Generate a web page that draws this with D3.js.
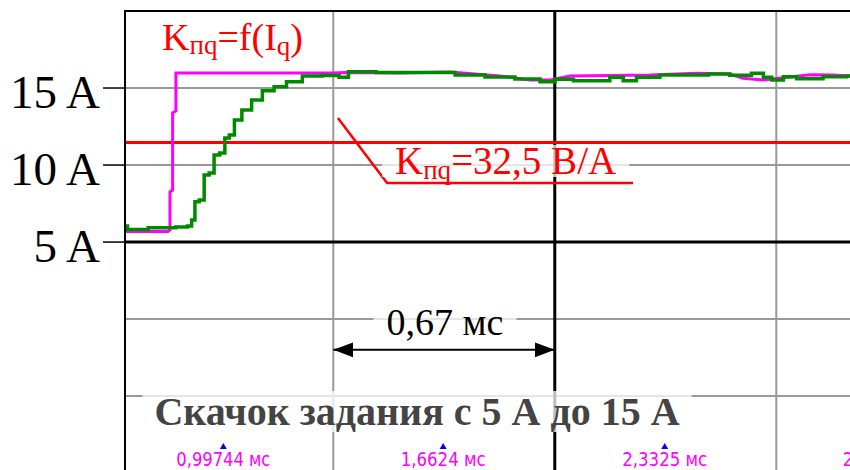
<!DOCTYPE html>
<html>
<head>
<meta charset="utf-8">
<script src="https://cdn.jsdelivr.net/npm/d3@7"></script>
<style>
  body { margin: 0; background: #fff; }
  svg { display: block; }
</style>
</head>
<body>
<script>
// time in ms, current in A
var greenT = [0.700, 0.715, 0.826, 0.881, 0.897, 0.906, 0.917, 0.932, 0.947, 0.962,
  0.977, 0.996, 1.008, 1.023, 1.039, 1.068, 1.098, 1.133, 1.169, 1.208,
  1.265, 1.329, 1.366, 1.386, 1.532, 1.653, 1.744, 1.834, 1.925, 1.986,
  2.016, 2.097, 2.146, 2.187, 2.227, 2.267, 2.369, 2.440, 2.490, 2.569,
  2.621, 2.641, 2.671, 2.712, 2.751, 2.872, 2.893];
var greenI = [6.04, 5.82, 5.93, 5.97, 6.04, 6.43, 7.62, 7.73, 9.35, 9.48,
  10.65, 10.78, 11.75, 11.95, 12.92, 13.57, 14.22, 14.83, 15.09, 15.41,
  15.78, 15.81, 15.70, 16.06, 16.01, 16.01, 15.85, 15.72, 15.59, 15.41,
  15.57, 15.47, 15.47, 15.70, 15.47, 15.70, 15.85, 15.85, 15.91, 15.83,
  15.96, 15.70, 15.52, 15.73, 15.60, 15.73, 15.78];

var pinkT = [0.700, 0.830, 0.836, 0.836, 0.844, 0.844, 0.854, 0.854, 1.329, 1.366,
  1.532, 1.683, 1.834, 1.925, 1.986, 2.046, 2.288, 2.429, 2.530, 2.569,
  2.630, 2.772, 2.842, 2.893];
var pinkI = [5.68, 5.68, 5.78, 8.25, 8.38, 13.38, 13.51, 15.97, 15.97, 16.01,
  15.97, 16.04, 15.78, 15.52, 15.52, 15.78, 15.85, 15.96, 15.91, 15.63,
  15.52, 15.86, 15.85, 15.78];

var redT = [0.700, 2.893];
var redI = [11.47, 11.47];

var yTicks = [15, 10, 5];
var yTickLabels = ["15 A", "10 A", "5 A"];
var gridI = [15, 10, 0, -5];
var gridT = [1.33, 2.67];
var axisI = 5;
var axisT = 2.00;

var cursorT = [0.99744, 1.6624, 2.3325, 2.9996];
var cursorLabels = ["0,99744 мс", "1,6624 мс", "2,3325 мс", "2,9996 мс"];

var width = 850, height = 470;

var svg = d3.select("body").append("svg")
    .attr("width", width)
    .attr("height", height);

var x = d3.scaleLinear().domain([0.70, 2.893]).range([125, 850]);
var y = d3.scaleLinear().domain([20, -9.8]).range([11, 470]);

svg.append("defs").append("clipPath")
    .attr("id", "plot")
  .append("rect")
    .attr("x", 125).attr("y", 11)
    .attr("width", 725).attr("height", 459);

svg.select("defs").append("marker")
    .attr("id", "head")
    .attr("viewBox", "0 -8 20 16")
    .attr("refX", 20).attr("refY", 0)
    .attr("markerWidth", 20).attr("markerHeight", 16)
    .attr("markerUnits", "userSpaceOnUse")
    .attr("orient", "auto-start-reverse")
  .append("path")
    .attr("d", "M0,-7.5L20,0L0,7.5Z")
    .attr("fill", "#000");

var plot = svg.append("g").attr("clip-path", "url(#plot)");

// grey grid
plot.selectAll("line.gy")
  .data(gridI)
  .enter().append("line")
    .attr("class", "gy")
    .attr("x1", 125).attr("x2", width)
    .attr("y1", function(d) { return y(d); })
    .attr("y2", function(d) { return y(d); })
    .attr("stroke", "#999").attr("stroke-width", 2);

plot.selectAll("line.gx")
  .data(gridT)
  .enter().append("line")
    .attr("class", "gx")
    .attr("y1", 11).attr("y2", height)
    .attr("x1", function(d) { return x(d); })
    .attr("x2", function(d) { return x(d); })
    .attr("stroke", "#999").attr("stroke-width", 2);

// black centre cross
plot.append("line")
    .attr("x1", 125).attr("x2", width)
    .attr("y1", y(axisI)).attr("y2", y(axisI))
    .attr("stroke", "#000").attr("stroke-width", 3);
plot.append("line")
    .attr("x1", x(axisT)).attr("x2", x(axisT))
    .attr("y1", 11).attr("y2", height)
    .attr("stroke", "#000").attr("stroke-width", 3);

// traces
var line = d3.line()
    .x(function(d) { return x(d[0]); })
    .y(function(d) { return y(d[1]); });

plot.append("path")
    .datum(d3.zip(redT, redI))
    .attr("d", line)
    .attr("fill", "none").attr("stroke", "#ff0000").attr("stroke-width", 3);

plot.append("path")
    .datum(d3.zip(pinkT, pinkI))
    .attr("d", line)
    .attr("fill", "none").attr("stroke", "#ff00ff").attr("stroke-width", 3);

// the scope trace is sampled, so draw it as steps
plot.append("path")
    .datum(d3.zip(greenT, greenI))
    .attr("d", line.curve(d3.curveStep))
    .attr("fill", "none").attr("stroke", "#008a00").attr("stroke-width", 3.5);

// frame
svg.append("line")
    .attr("x1", 125).attr("x2", 125).attr("y1", 10).attr("y2", height)
    .attr("stroke", "#000").attr("stroke-width", 2);
svg.append("line")
    .attr("x1", 124).attr("x2", width).attr("y1", 11).attr("y2", 11)
    .attr("stroke", "#000").attr("stroke-width", 2);

// y ticks and labels
svg.selectAll("line.ytick")
  .data(yTicks)
  .enter().append("line")
    .attr("class", "ytick")
    .attr("x1", 103).attr("x2", 125)
    .attr("y1", function(d) { return y(d); })
    .attr("y2", function(d) { return y(d); })
    .attr("stroke", "#000").attr("stroke-width", 1.5);

svg.selectAll("text.ylab")
  .data(yTicks)
  .enter().append("text")
    .attr("class", "ylab")
    .attr("x", 100)
    .attr("y", function(d) { return y(d) + 20; })
    .attr("text-anchor", "end")
    .attr("font-family", "Liberation Serif, Times New Roman, serif")
    .attr("font-size", 47)
    .attr("fill", "#000")
    .text(function(d, i) { return yTickLabels[i]; });

// text with a half transparent white box behind it
function boxed(g, padX, padTop, padBottom) {
  var bb = g.select("text").node().getBBox();
  g.insert("rect", "text")
      .attr("x", bb.x - padX).attr("y", bb.y + padTop)
      .attr("width", bb.width + 2 * padX)
      .attr("height", bb.height - padTop - padBottom)
      .attr("fill", "#fff").attr("opacity", 0.75);
}

// K = f(Iq) label
var k1 = svg.append("text")
    .attr("x", 162).attr("y", 50)
    .attr("font-family", "Liberation Serif, Times New Roman, serif")
    .attr("font-size", 38)
    .attr("fill", "#ff0000");
k1.append("tspan").text("K");
k1.append("tspan").attr("font-size", 27).attr("dy", 4).text("пq");
k1.append("tspan").attr("dy", -4).text("=f(I");
k1.append("tspan").attr("font-size", 27).attr("dy", 5).text("q");
k1.append("tspan").attr("dy", -5).text(")");

// K = 32,5 V/A label with leader
svg.append("path")
    .attr("d", "M" + x(1.344) + "," + y(13.05) + "L" + x(1.4926) + "," + y(8.83) + "L" + x(2.237) + "," + y(8.83))
    .attr("fill", "none").attr("stroke", "#ff0000").attr("stroke-width", 2.5);

var g2 = svg.append("g");
var k2 = g2.append("text")
    .attr("x", 395).attr("y", 174)
    .attr("font-family", "Liberation Serif, Times New Roman, serif")
    .attr("font-size", 39)
    .attr("fill", "#ff0000");
k2.append("tspan").text("K");
k2.append("tspan").attr("font-size", 27).attr("dy", 5).text("пq");
k2.append("tspan").attr("dy", -5).text("=32,5 В/А");
boxed(g2, 13, 6, 8);

// 0,67 ms span
svg.append("line")
    .attr("x1", x(gridT[0])).attr("x2", x(axisT))
    .attr("y1", y(-2)).attr("y2", y(-2))
    .attr("stroke", "#000").attr("stroke-width", 2)
    .attr("marker-start", "url(#head)")
    .attr("marker-end", "url(#head)");

var g3 = svg.append("g");
g3.append("text")
    .attr("x", (x(gridT[0]) + x(axisT)) / 2 + 1).attr("y", 335)
    .attr("text-anchor", "middle")
    .attr("font-family", "Liberation Serif, Times New Roman, serif")
    .attr("font-size", 38)
    .attr("fill", "#000")
    .text("0,67 мс");
boxed(g3, 13, 4, 6);

// title
var g4 = svg.append("g");
g4.append("text")
    .attr("x", 417).attr("y", 425)
    .attr("text-anchor", "middle")
    .attr("font-family", "Liberation Serif, Times New Roman, serif")
    .attr("font-size", 40)
    .attr("font-weight", "bold")
    .attr("fill", "#444")
    .text("Скачок задания с 5 А до 15 А");
boxed(g4, 12, 2, 2);

// cursor marks along the bottom
svg.selectAll("path.cur")
  .data(cursorT)
  .enter().append("path")
    .attr("class", "cur")
    .attr("d", function(d) { var cx = x(d); return "M" + (cx - 3.5) + ",449L" + (cx + 3.5) + ",449L" + cx + ",443Z"; })
    .attr("fill", "#0000ff");

svg.selectAll("text.cur")
  .data(cursorT)
  .enter().append("text")
    .attr("class", "cur")
    .attr("x", function(d) { return x(d); })
    .attr("y", 466)
    .attr("text-anchor", "middle")
    .attr("font-family", "Liberation Sans Narrow, DejaVu Sans Condensed, Arial Narrow, sans-serif")
    .attr("font-size", 20)
    .attr("textLength", function(d, i) { return i === 0 ? 94 : 85; })
    .attr("lengthAdjust", "spacingAndGlyphs")
    .attr("fill", "#ff00ff")
    .text(function(d, i) { return cursorLabels[i]; });
</script>
</body>
</html>
